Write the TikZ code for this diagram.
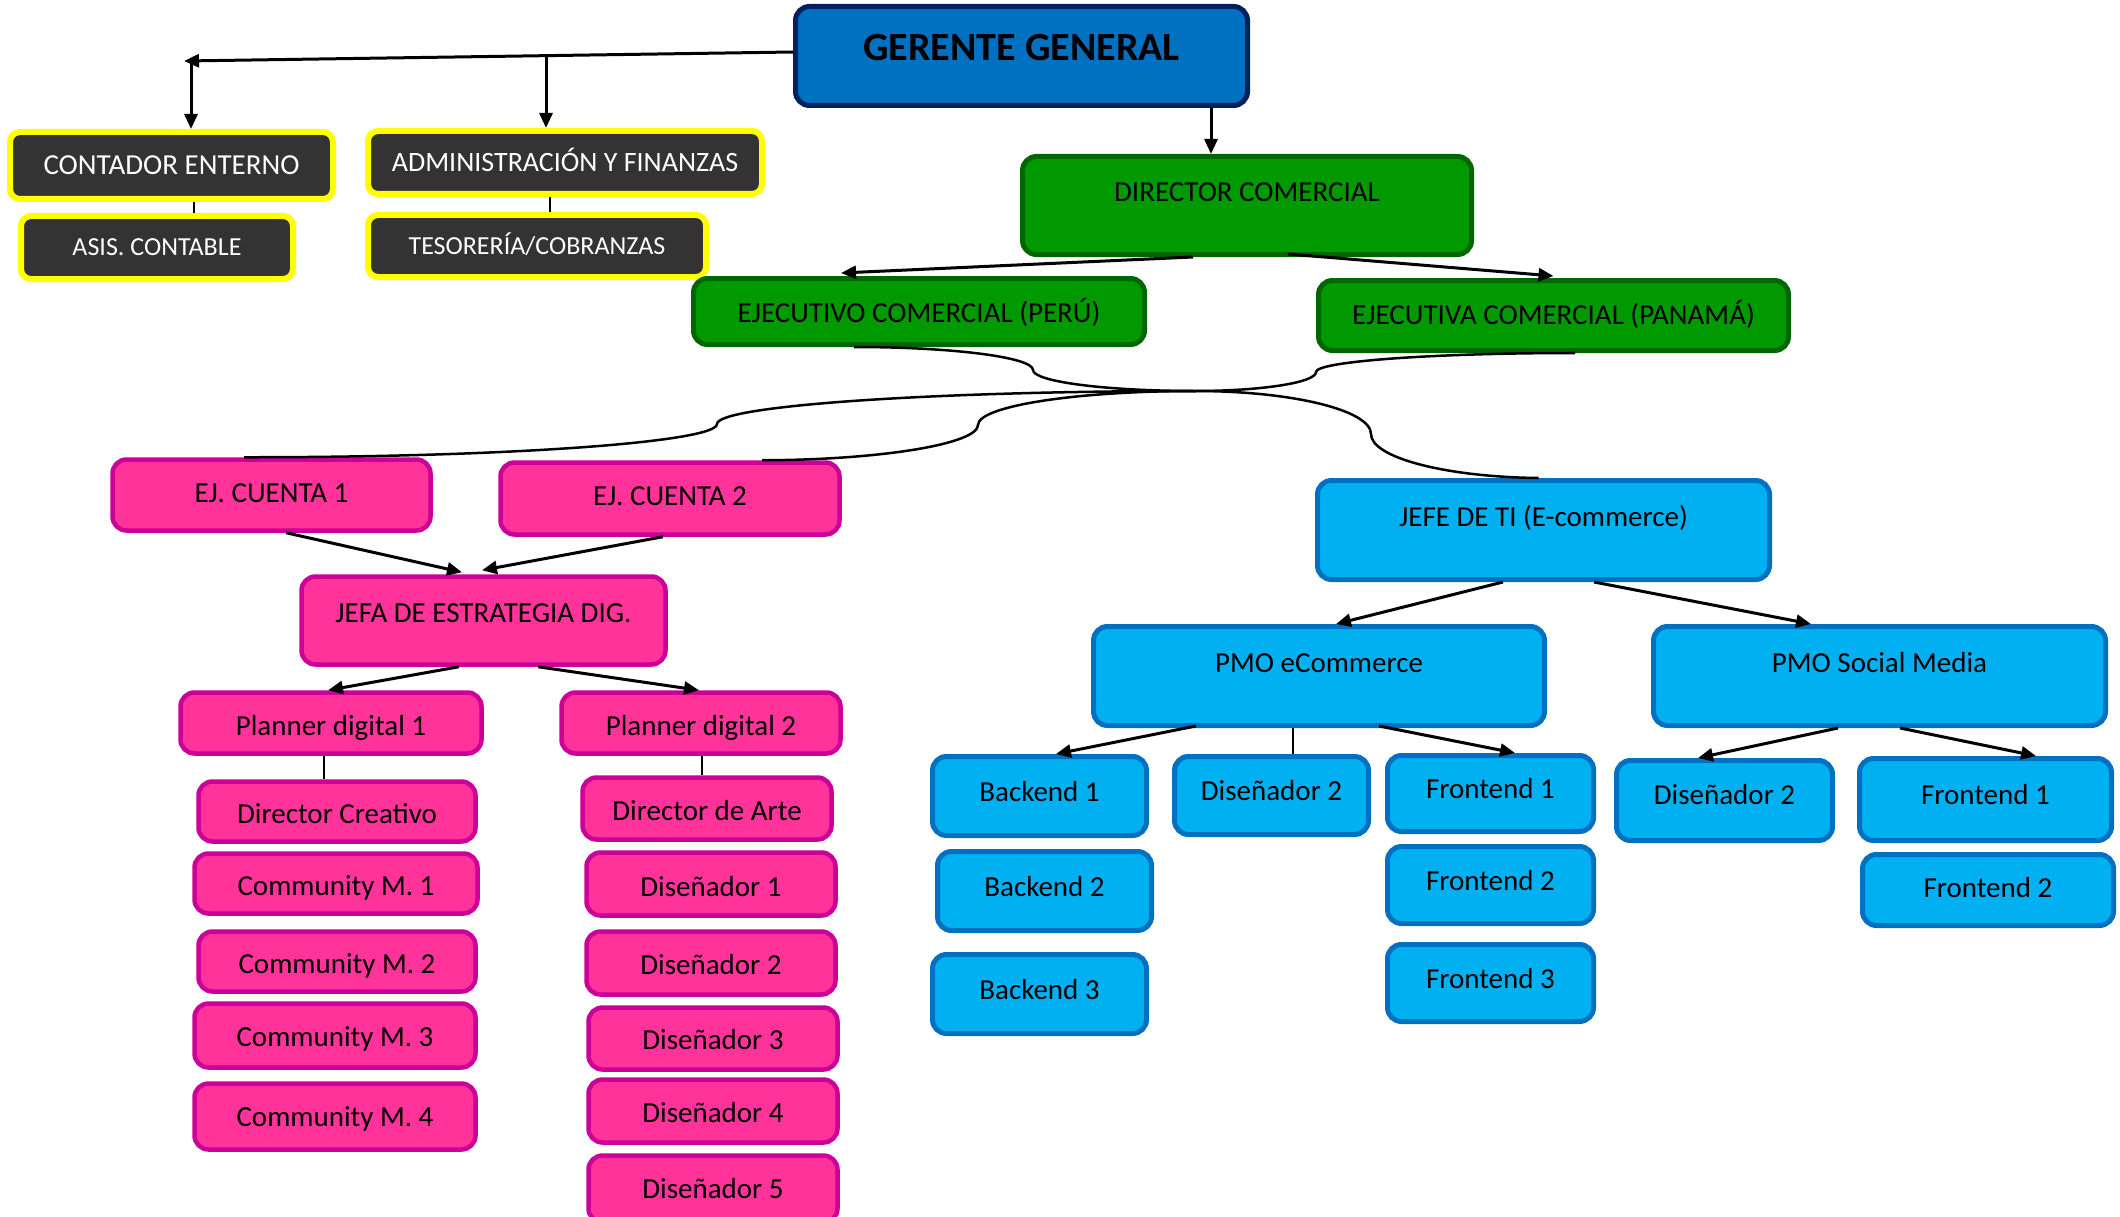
\documentclass[tikz,border=0pt]{standalone}
\usepackage{fontspec}
\setmainfont{Carlito}
\usetikzlibrary{arrows.meta}
\definecolor{gmfill}{HTML}{0070C0}
\definecolor{gmdraw}{HTML}{002060}
\definecolor{dkfill}{HTML}{333333}
\definecolor{ylw}{HTML}{FFFF00}
\definecolor{grfill}{HTML}{009900}
\definecolor{grdraw}{HTML}{006600}
\definecolor{pkfill}{HTML}{FF3399}
\definecolor{pkdraw}{HTML}{CC0099}
\definecolor{cyfill}{HTML}{00B0F0}
\definecolor{cydraw}{HTML}{0070C0}
\tikzset{
  tpos/.code 2 args={\pgfmathsetmacro\tdp{25-0.644*#1+2*(#2)}\edef\tmp{\noexpand\tikzset{text height=25pt,text depth=\tdp pt}}\tmp},
  box/.style={rectangle, rounded corners=14pt, inner sep=0pt, align=center},
  fsz/.style={font=\fontsize{#1}{#1}\selectfont},
  gmbox/.style={box, fill=gmfill, draw=gmdraw, line width=5pt, font=\fontsize{40}{40}\selectfont\bfseries},
  dkbox/.style={box, rounded corners=10pt, fill=dkfill, draw=ylw, line width=6pt, text=white},
  grbox/.style={box, fill=grfill, draw=grdraw, line width=5pt, fsz=29},
  pkbox/.style={box, fill=pkfill, draw=pkdraw, line width=4.5pt, fsz=29},
  cybox/.style={box, fill=cyfill, draw=cydraw, line width=5pt, fsz=29},
  arr/.style={line width=3pt, -{Triangle[length=15pt,width=13pt]}},
  ln/.style={line width=2pt},
  crv/.style={line width=2.5pt},
}
\begin{document}
\begin{tikzpicture}[x=1pt,y=-1pt]
\useasboundingbox (0,0) rectangle (2120,1217);
% top
\node[gmbox, minimum width=452pt, minimum height=99pt, text height=30pt, text depth=20pt] (gg) at (1021.5,56) {GERENTE GENERAL};
\node[dkbox, fsz=29, minimum width=323pt, minimum height=67pt, tpos={29}{0}] (ce) at (171.5,165.5) {CONTADOR ENTERNO};
\node[dkbox, fsz=28, minimum width=394pt, minimum height=63pt, tpos={28}{0}] (ad) at (565,162.5) {ADMINISTRACIÓN Y FINANZAS};
\node[dkbox, fsz=26, minimum width=272pt, minimum height=63pt, tpos={26}{0}] (as) at (157,247.5) {ASIS. CONTABLE};
\node[dkbox, fsz=26, minimum width=338pt, minimum height=62pt, tpos={26}{0}] (te) at (537,246) {TESORERÍA/COBRANZAS};
% green
\node[grbox, minimum width=449pt, minimum height=98pt, tpos={29}{13}] (dc) at (1247,205.5) {DIRECTOR COMERCIAL};
\node[grbox, minimum width=451pt, minimum height=66pt, tpos={29}{-2}] (pe) at (919,311.5) {EJECUTIVO COMERCIAL (PERÚ)};
\node[grbox, minimum width=470pt, minimum height=70pt, tpos={29}{0}] (pa) at (1553.5,315.5) {EJECUTIVA COMERCIAL (PANAMÁ)};
% pink
\node[pkbox, minimum width=318pt, minimum height=71pt, tpos={29}{1.5}] (ec1) at (271.5,495) {EJ. CUENTA 1};
\node[pkbox, minimum width=339pt, minimum height=72pt, tpos={29}{2}] (ec2) at (670,498.5) {EJ. CUENTA 2};
\node[pkbox, minimum width=364pt, minimum height=88pt, tpos={29}{7.5}] (je) at (483.5,620.5) {JEFA DE ESTRATEGIA DIG.};
\node[pkbox, minimum width=301pt, minimum height=61pt, tpos={29}{-3.5}] (p1) at (331,723) {Planner digital 1};
\node[pkbox, minimum width=279pt, minimum height=61pt, tpos={29}{-3.5}] (p2) at (701,723) {Planner digital 2};
\node[pkbox, minimum width=277pt, minimum height=60pt, tpos={29}{-2.5}] (dcr) at (337,811.5) {Director Creativo};
\node[pkbox, minimum width=283pt, minimum height=60pt, tpos={29}{-3}] (cm1) at (336,883.5) {Community M. 1};
\node[pkbox, minimum width=277pt, minimum height=60pt, tpos={29}{-3}] (cm2) at (337,961.5) {Community M. 2};
\node[pkbox, minimum width=281pt, minimum height=64pt, tpos={29}{-2}] (cm3) at (335,1035.5) {Community M. 3};
\node[pkbox, minimum width=281pt, minimum height=66pt, tpos={29}{-1}] (cm4) at (335,1116.5) {Community M. 4};
\node[pkbox, minimum width=249pt, minimum height=62pt, tpos={29}{-3}] (da) at (707,808.5) {Director de Arte};
\node[pkbox, minimum width=249pt, minimum height=63pt, tpos={29}{-3}] (d1) at (711,884) {Diseñador 1};
\node[pkbox, minimum width=249pt, minimum height=63pt, tpos={29}{-2}] (d2) at (711,963) {Diseñador 2};
\node[pkbox, minimum width=249pt, minimum height=62pt, tpos={29}{-2}] (d3) at (713,1038.5) {Diseñador 3};
\node[pkbox, minimum width=249pt, minimum height=63pt, tpos={29}{-2}] (d4) at (713,1111) {Diseñador 4};
\node[pkbox, minimum width=249pt, minimum height=67pt, tpos={29}{0}] (d5) at (713,1189) {Diseñador 5};
% cyan
\node[cybox, minimum width=452pt, minimum height=99pt, tpos={29}{13}] (ti) at (1543.5,530) {JEFE DE TI (E-commerce)};
\node[cybox, minimum width=451pt, minimum height=99pt, tpos={29}{13}] (pec) at (1319,676) {PMO eCommerce};
\node[cybox, minimum width=452pt, minimum height=99pt, tpos={29}{13}] (ps) at (1879.5,676) {PMO Social Media};
\node[cybox, minimum width=214pt, minimum height=79pt, tpos={29}{4}] (b1) at (1039.5,796) {Backend 1};
\node[cybox, minimum width=194pt, minimum height=78pt, tpos={29}{4}] (dz2) at (1271.5,795.5) {Diseñador 2};
\node[cybox, minimum width=206pt, minimum height=76pt, tpos={29}{4}] (f1) at (1490.5,793.5) {Frontend 1};
\node[cybox, minimum width=216pt, minimum height=80pt, tpos={29}{5}] (d2s) at (1724.5,800.5) {Diseñador 2};
\node[cybox, minimum width=252pt, minimum height=82pt, tpos={29}{4}] (f1s) at (1985.5,799.5) {Frontend 1};
\node[cybox, minimum width=214pt, minimum height=79pt, tpos={29}{4}] (b2) at (1044.5,891) {Backend 2};
\node[cybox, minimum width=206pt, minimum height=77pt, tpos={29}{4}] (f2) at (1490.5,885) {Frontend 2};
\node[cybox, minimum width=251pt, minimum height=71pt, tpos={29}{2}] (f2s) at (1988,890) {Frontend 2};
\node[cybox, minimum width=214pt, minimum height=79pt, tpos={29}{4}] (b3) at (1039.5,994) {Backend 3};
\node[cybox, minimum width=206pt, minimum height=77pt, tpos={29}{4}] (f3) at (1490.5,983) {Frontend 3};
% connectors top
\coordinate (jl) at (184,61);
\coordinate (jc) at (191,60);
\coordinate (ja) at (546,55);
\draw[arr] ([yshift=4pt]gg.west) -- (jl);
\draw[arr] (jc) -- (jc |- ce.north);
\draw[arr] (ja) -- (ja |- ad.north);
\draw[arr] ([xshift=189.5pt]gg.south) -- ([xshift=189.5pt]gg.south |- dc.north);
\draw[ln] ([xshift=22.5pt]ce.south) -- ([xshift=22.5pt]ce.south |- as.north);
\draw[ln] ([xshift=-15pt]ad.south) -- ([xshift=-15pt]ad.south |- te.north);
\draw[arr] ([xshift=-54pt]dc.south) -- ([xshift=-78pt,yshift=3pt]pe.north);
\draw[arr] ([xshift=41pt,yshift=3pt]dc.south) -- ([yshift=2pt]pa.north);
% curves (curly connectors through a hub)
\coordinate (hub) at (1195,391);
\coordinate (mpe) at (1033,370);
\coordinate (mpa) at (1316,372);
\coordinate (me1) at (717,424);
\coordinate (me2) at (978,425);
\coordinate (mti) at (1371,434);
\draw[crv] ([xshift=-65pt]pe.south) .. controls (952.8,347) and (1033,357.3) .. (mpe)
  .. controls (1033,381.6) and (1105.6,391) .. (hub);
\draw[crv] ([xshift=21.5pt]pa.south) .. controls (1432,353) and (1316,361.5) .. (mpa)
  .. controls (1316,382.5) and (1261.8,391) .. (hub);
\draw[crv] (hub) .. controls (931.1,391) and (717,405.8) .. (me1)
  .. controls (717,442.2) and (505.1,457.5) .. ([xshift=-27.5pt]ec1.north);
\draw[crv] (hub) .. controls (1075.2,391) and (978,406.2) .. (me2)
  .. controls (978,443.8) and (881.2,460) .. ([xshift=92pt]ec2.north);
\draw[crv] (hub) .. controls (1292.2,391) and (1371,410.3) .. (mti)
  .. controls (1371,457.7) and (1445.8,477) .. ([xshift=-5pt]ti.north);
% pink connectors
\draw[arr] ([xshift=14.5pt]ec1.south) -- ([xshift=-21.5pt,yshift=2pt]je.north);
\draw[arr] ([xshift=-7pt]ec2.south) -- ([xshift=-1.5pt,yshift=4pt]je.north);
\draw[arr] ([xshift=-24.5pt]je.south) -- ([xshift=-3pt]p1.north);
\draw[arr] ([xshift=54.5pt]je.south) -- ([xshift=-2pt]p2.north);
\draw[ln] ([xshift=-7pt]p1.south) -- ([xshift=-7pt]p1.south |- dcr.north);
\draw[ln] ([xshift=1pt]p2.south) -- ([xshift=1pt]p2.south |- da.north);
% cyan connectors
\draw[arr] ([xshift=-40.5pt]ti.south) -- ([xshift=17pt]pec.north);
\draw[arr] ([xshift=50.5pt]ti.south) -- ([xshift=-68.5pt]ps.north);
\draw[arr] ([xshift=-123pt,yshift=2pt]pec.south) -- ([xshift=16.5pt]b1.north);
\draw[ln] ([xshift=-26pt]pec.south) -- ([xshift=-26pt]pec.south |- dz2.north);
\draw[arr] ([xshift=60pt,yshift=2pt]pec.south) -- ([xshift=24.5pt]f1.north);
\draw[arr] ([xshift=-41.5pt]ps.south) -- ([xshift=-26.5pt]d2s.north);
\draw[arr] ([xshift=20.5pt]ps.south) -- ([xshift=50.5pt]f1s.north);
\end{tikzpicture}
\end{document}
